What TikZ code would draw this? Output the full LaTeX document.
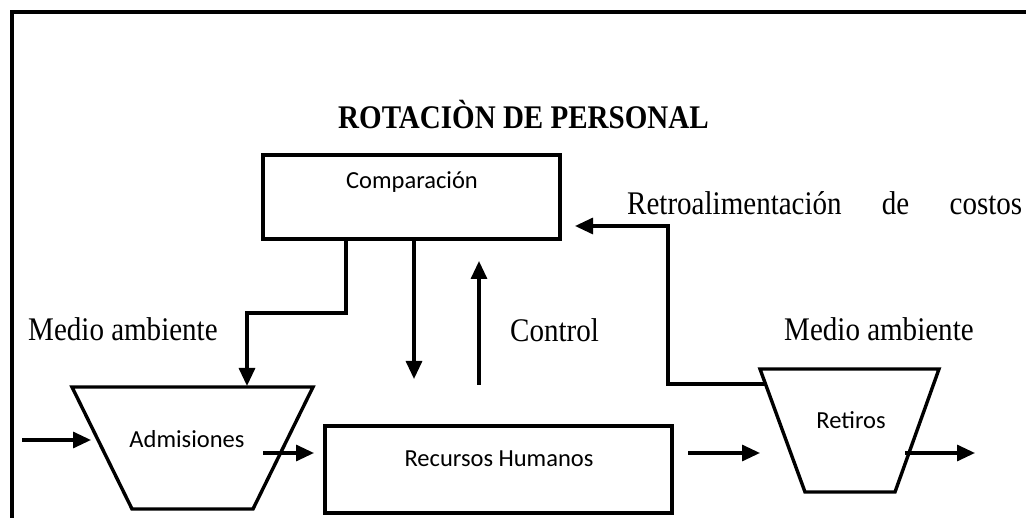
\documentclass[tikz,border=0pt]{standalone}
\usepackage{fontspec}
\setmainfont{Liberation Serif}[FakeStretch=0.88]
\newfontfamily\sansf{Carlito}
\usetikzlibrary{arrows.meta}
\begin{document}
\begin{tikzpicture}[x=1pt,y=-1pt,
  serifbig/.style={inner sep=0pt,font=\fontsize{33}{36}\selectfont},
  sanstxt/.style={inner sep=0pt,font=\sansf\fontsize{24.5}{28}\selectfont},
  boxshape/.style={draw,line width=3.4pt,inner sep=0pt},
  trap/.style={draw,line width=3.4pt,line join=miter},
  arr/.style={line width=3.2pt,-{Triangle[length=18pt,width=16pt]}},
  frameline/.style={line width=3.4pt}]
\useasboundingbox (0,0) rectangle (1026,518);
% frame
\draw[frameline] (1030,12) -- (12,12) -- (12,522);

% title
\node[serifbig,anchor=base west,font=\bfseries\fontsize{33}{36}\selectfont] (title) at (338,129) {ROTACIÒN DE PERSONAL};

% Comparacion box
\node[boxshape,minimum width=297pt,minimum height=84pt] (comp) at (411.5,197) {};
\node[sanstxt,anchor=base] (comptxt) at (412,189) {Comparación};

% Recursos Humanos box
\node[boxshape,minimum width=347pt,minimum height=87pt] (rh) at (498.5,469.5) {};
\node[sanstxt,anchor=base] (rhtxt) at (499,467) {Recursos Humanos};

% Admisiones trapezoid
\coordinate (adTL) at (72,387);
\coordinate (adTR) at (313,387);
\coordinate (adBR) at (253,509);
\coordinate (adBL) at (132,509);
\draw[trap] (adTL) -- (adTR) -- (adBR) -- (adBL) -- cycle;
\node[sanstxt,anchor=base] (adtxt) at (187,448) {Admisiones};

% Retiros trapezoid
\coordinate (rtTL) at (760,369);
\coordinate (rtTR) at (939,369);
\coordinate (rtBR) at (895,492);
\coordinate (rtBL) at (805,492);
\draw[trap] (rtTL) -- (rtTR) -- (rtBR) -- (rtBL) -- cycle;
\node[sanstxt,anchor=base] (rttxt) at (851,429) {Retiros};

% labels
\node[serifbig,anchor=base west] (medL) at (28,341) {Medio ambiente};
\node[serifbig,anchor=base west] (medR) at (784,341) {Medio ambiente};
\node[serifbig,anchor=base west] (ctl) at (510,342) {Control};
\node[serifbig,anchor=base west] (retro) at (627,215) {\makebox[395pt][s]{Retroalimentación de costos}};

% connector coordinates
\coordinate (cA) at (346,239);
\coordinate (adTop) at (247,386);
\coordinate (rhIn) at (414,379);
\coordinate (ctlFrom) at (479,385);
\coordinate (ctlTo) at (479,261);
\coordinate (fbStart) at (765,384);
\coordinate (fbCorner) at (668,384);
\coordinate (fbEnd) at (575,226);
\coordinate (inL) at (22,440);
\coordinate (adIn) at (91,440);
\coordinate (adOut) at (263,453);
\coordinate (rhL) at (314,453);
\coordinate (rhOut) at (688,453);
\coordinate (rtIn) at (760,453);
\coordinate (rtOut) at (905,453);
\coordinate (outEnd) at (975,453);

% connectors
\draw[arr] (cA) -- ++(0,74) -| (adTop);
\draw[arr] (comp.south -| rhIn) -- (rhIn);
\draw[arr] (ctlFrom) -- (ctlTo);
\draw[arr] (fbStart) -- (fbCorner) |- (fbEnd);
\draw[arr] (inL) -- (adIn);
\draw[arr] (adOut) -- (rhL);
\draw[arr] (rhOut) -- (rtIn);
\draw[arr] (rtOut) -- (outEnd);
\end{tikzpicture}
\end{document}
